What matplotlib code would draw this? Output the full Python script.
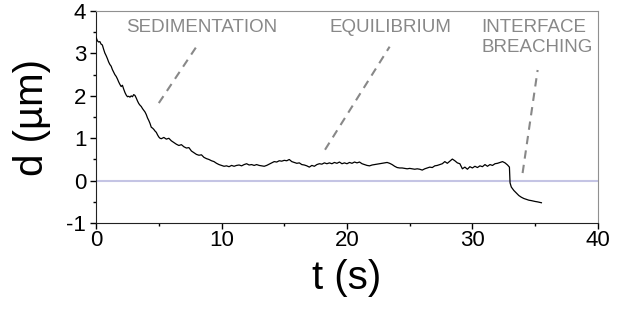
import numpy as np
import matplotlib
matplotlib.use("Agg")
import matplotlib.pyplot as plt
from matplotlib.ticker import MultipleLocator

plt.rcParams['font.family'] = ['Liberation Sans', 'DejaVu Sans']
plt.rcParams['axes.unicode_minus'] = False

## ---- data -----------------------------------------------------------------

t_sed = [0.0, 0.1, 0.2, 0.3, 0.4, 0.5, 0.6, 0.7, 0.8, 0.9,
         1.0, 1.1, 1.2, 1.3, 1.4, 1.5, 1.6, 1.7, 1.8, 1.9,
         2.0, 2.1, 2.2, 2.3, 2.4, 2.5, 2.6, 2.7, 2.8, 2.9,
         3.0, 3.1, 3.2, 3.3, 3.4, 3.5, 3.6, 3.7, 3.8, 3.9,
         4.0, 4.1, 4.2, 4.3, 4.4, 4.5, 4.6, 4.7, 4.8, 4.9,
         5.0, 5.1, 5.2, 5.4, 5.6, 5.8, 6.0, 6.2, 6.4, 6.6,
         6.8, 7.0, 7.2, 7.4, 7.6, 7.8, 8.0, 8.2, 8.4, 8.6,
         8.8, 9.0, 9.2, 9.4, 9.6, 9.8]
d_sed = [3.38, 3.30, 3.27, 3.28, 3.22, 3.20, 3.10, 3.01, 2.95, 2.88,
         2.80, 2.74, 2.70, 2.62, 2.56, 2.50, 2.46, 2.40, 2.33, 2.27,
         2.22, 2.25, 2.16, 2.08, 2.02, 1.98, 1.99, 1.97, 2.00, 1.98,
         2.03, 2.01, 1.95, 1.88, 1.82, 1.78, 1.75, 1.70, 1.66, 1.62,
         1.56, 1.48, 1.42, 1.35, 1.26, 1.24, 1.21, 1.17, 1.14, 1.08,
         1.03, 1.00, 0.99, 1.02, 0.98, 1.00, 0.94, 0.90, 0.86, 0.83,
         0.85, 0.80, 0.77, 0.78, 0.70, 0.66, 0.62, 0.60, 0.61, 0.55,
         0.52, 0.50, 0.47, 0.45, 0.41, 0.38]

t_eq = [10.0, 10.2, 10.4, 10.6, 10.8, 11.0, 11.2, 11.4, 11.6, 11.8,
        12.0, 12.2, 12.4, 12.6, 12.8, 13.0, 13.2, 13.4, 13.6, 13.8,
        14.0, 14.2, 14.4, 14.6, 14.8, 15.0, 15.2, 15.4, 15.6, 15.8,
        16.0, 16.2, 16.4, 16.6, 16.8, 17.0, 17.2, 17.4, 17.6, 17.8,
        18.0, 18.2, 18.4, 18.6, 18.8, 19.0, 19.2, 19.4, 19.6, 19.8,
        20.0, 20.2, 20.4, 20.6, 20.8, 21.0, 21.2, 21.4, 21.6, 21.8,
        22.0, 22.2, 22.4, 22.6, 22.8, 23.0, 23.2, 23.4, 23.6, 23.8,
        24.0, 24.2, 24.4, 24.6, 24.8, 25.0, 25.2, 25.4, 25.6, 25.8,
        26.0, 26.2, 26.4, 26.6, 26.8, 27.0, 27.2, 27.4, 27.6, 27.8,
        28.0, 28.2, 28.4, 28.6, 28.8, 29.0, 29.2, 29.4, 29.6, 29.8,
        30.0, 30.2, 30.4, 30.6, 30.8, 31.0, 31.2, 31.4, 31.6, 31.8,
        32.0, 32.2, 32.4, 32.6, 32.8, 32.95]
d_eq = [0.36, 0.34, 0.35, 0.33, 0.36, 0.34, 0.36, 0.37, 0.35, 0.38,
        0.40, 0.37, 0.38, 0.36, 0.38, 0.36, 0.35, 0.34, 0.36, 0.39,
        0.42, 0.45, 0.44, 0.47, 0.46, 0.48, 0.47, 0.50, 0.45, 0.43,
        0.41, 0.42, 0.38, 0.37, 0.35, 0.32, 0.36, 0.34, 0.38, 0.40,
        0.39, 0.42, 0.40, 0.42, 0.40, 0.43, 0.41, 0.44, 0.40, 0.42,
        0.40, 0.43, 0.41, 0.44, 0.42, 0.44, 0.40, 0.38, 0.36, 0.35,
        0.37, 0.38, 0.39, 0.40, 0.41, 0.42, 0.43, 0.41, 0.38, 0.34,
        0.31, 0.30, 0.30, 0.29, 0.28, 0.29, 0.28, 0.27, 0.28, 0.27,
        0.25, 0.28, 0.30, 0.32, 0.31, 0.35, 0.36, 0.38, 0.40, 0.45,
        0.41, 0.46, 0.51, 0.47, 0.42, 0.40, 0.28, 0.32, 0.27, 0.33,
        0.30, 0.34, 0.31, 0.35, 0.33, 0.38, 0.34, 0.38, 0.36, 0.40,
        0.41, 0.43, 0.45, 0.42, 0.37, 0.32]

t_br = [33.0, 33.1, 33.3, 33.5, 33.7, 33.9, 34.1, 34.3, 34.5, 34.7,
        35.0, 35.2, 35.5]
d_br = [-0.05, -0.15, -0.23, -0.29, -0.35, -0.39, -0.42, -0.44, -0.46, -0.47,
        -0.49, -0.50, -0.52]

# annotation texts and their guide lines (start, end) in data units
labels       = ["SEDIMENTATION", "EQUILIBRIUM", "INTERFACE\nBREACHING"]
label_xy     = [(8.4, 3.62), (23.5, 3.62), (30.7, 3.37)]
guide_x      = [(5.0, 8.0), (18.25, 23.4), (34.0, 35.2)]
guide_y      = [(1.83, 3.16), (0.73, 3.16), (0.18, 2.61)]

t_all = t_sed + t_eq + t_br
d_all = d_sed + d_eq + d_br

## ---- figure ---------------------------------------------------------------

fig = plt.figure(figsize=(6.28, 3.16), dpi=100)
ax = fig.add_axes([0.153, 0.294, 0.799, 0.671])

ax.axhline(0, color='#c4c4e4', lw=1.5, zorder=1)
ax.plot(t_all, d_all, color='black', lw=0.9, zorder=3)

grey = '#888888'
for (x0, x1), (y0, y1) in zip(guide_x, guide_y):
    ax.plot([x0, x1], [y0, y1], color=grey, lw=1.5, dashes=(4, 3), zorder=2)

for txt, (x, y) in zip(labels, label_xy):
    ha = 'left' if '\n' in txt else 'center'
    ax.text(x, y, txt, color=grey, fontsize=13.5, ha=ha, va='center',
            linespacing=1.2)

ax.set_xlim(0, 40)
ax.set_ylim(-1, 4)
ax.xaxis.set_major_locator(MultipleLocator(10))
ax.xaxis.set_minor_locator(MultipleLocator(5))
ax.yaxis.set_major_locator(MultipleLocator(1))
ax.yaxis.set_minor_locator(MultipleLocator(0.5))
ax.tick_params(which='major', direction='out', length=4, width=1,
               labelsize=16, pad=3)
ax.tick_params(axis='x', which='major', pad=1)
ax.tick_params(which='minor', direction='out', length=2.5, width=1)
ax.tick_params(top=False, right=False)

for side in ['left', 'bottom']:
    ax.spines[side].set_color('#222222')
for side in ['top', 'right']:
    ax.spines[side].set_color('#909090')

ax.set_xlabel("t (s)", fontsize=29, labelpad=6)
ax.set_ylabel("d (\u00b5m)", fontsize=29, labelpad=11)

fig.savefig("out.png", dpi=100)
